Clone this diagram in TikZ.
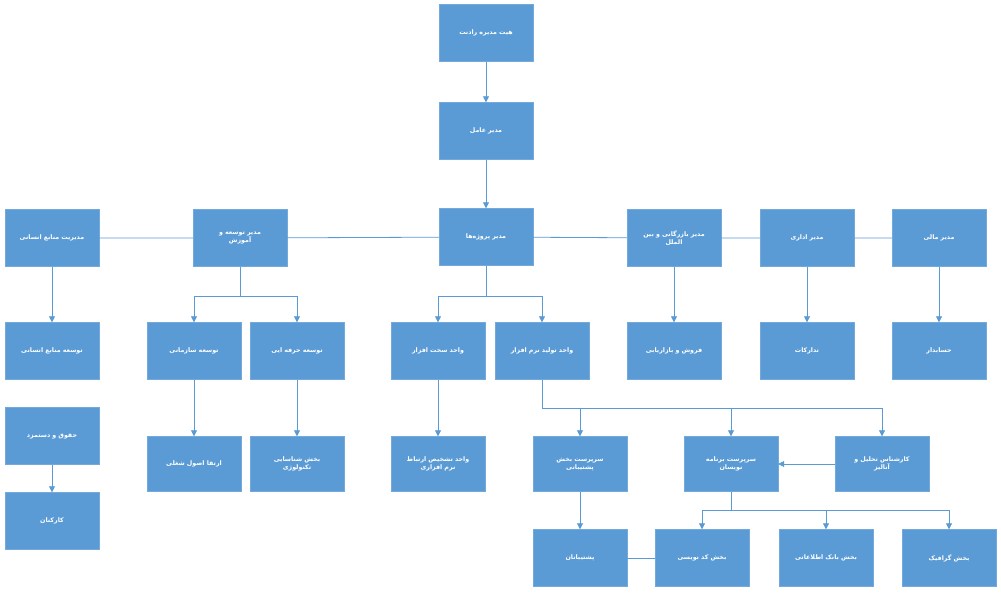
\documentclass[tikz,border=0pt]{standalone}
\usepackage{fontspec}
\TeXXeTstate=1
\newfontfamily\arabicfont[Script=Arabic]{DejaVu Sans}
\usetikzlibrary{arrows.meta}
\newcommand{\fa}[1]{{\arabicfont\bfseries\beginR #1\endR}}
\definecolor{boxblue}{HTML}{5B9BD5}
\definecolor{lineblue}{HTML}{5B9BD5}
\begin{document}
\begin{tikzpicture}[x=1pt,y=-1pt,
  box/.style={rectangle,fill=boxblue,draw=boxblue!85!white,minimum width=94pt,minimum height=57pt,inner sep=2pt,text=white,font=\fontsize{6.3}{8}\selectfont,align=center,text width=88pt},
  sbox/.style={box,minimum height=55pt},
  ln/.style={draw=lineblue,line width=0.8pt},
  arr/.style={ln,-{Triangle[length=6pt,width=6pt]}}]
\useasboundingbox[fill=white] (0,0) rectangle (1001,595);
\node[box] (board) at (486,33) {\fa{هیت مدیره رادنت}};
\node[box] (ceo) at (486,131) {\fa{مدیر عامل}};
\node[box] (pm) at (486,237) {\fa{مدیر پروژه‌ها}};
\node[box] (hr) at (52,238) {\fa{مدیریت منابع انسانی}};
\node[box] (edu) at (240,238) {\fa{مدیر توسعه و}\\\fa{آموزش}};
\node[box] (com) at (674,238) {\fa{مدیر بازرگانی و بین}\\\fa{الملل}};
\node[box] (adm) at (807,238) {\fa{مدیر اداری}};
\node[box] (fin) at (939,238) {\fa{مدیر مالی}};
\node[box] (hrd) at (52,351) {\fa{توسعه منابع انسانی}};
\node[box] (org) at (194,351) {\fa{توسعه سازمانی}};
\node[box] (prof) at (297,351) {\fa{توسعه حرفه ایی}};
\node[box] (hw) at (438,351) {\fa{واحد سخت افزار}};
\node[box] (sw) at (542,351) {\fa{واحد تولید نرم افزار}};
\node[box] (sales) at (674,351) {\fa{فروش و بازاریابی}};
\node[box] (proc) at (807,351) {\fa{تدارکات}};
\node[box] (acc) at (939,351) {\fa{حسابدار}};
\node[box] (pay) at (52,436) {\fa{حقوق و دستمزد}};
\node[box] (staff) at (52,521) {\fa{کارکنان}};
\node[sbox] (career) at (194,464) {\fa{ارتقا اصول شغلی}};
\node[sbox] (tech) at (297,464) {\fa{بخش شناسایی}\\\fa{تکنولوژی}};
\node[sbox] (diag) at (438,464) {\fa{واحد تشخیص ارتباط}\\\fa{نرم افزاری}};
\node[sbox] (sup) at (580,464) {\fa{سرپرست بخش}\\\fa{پشتیبانی}};
\node[sbox] (prog) at (731,464) {\fa{سرپرست برنامه}\\\fa{نویسان}};
\node[sbox] (anal) at (882,464) {\fa{کارشناس تحلیل و}\\\fa{آنالیز}};
\node[box] (supp) at (580,558) {\fa{پشتیبانان}};
\node[box] (code) at (702,558) {\fa{بخش کد نویسی}};
\node[box] (db) at (826,558) {\fa{بخش بانک اطلاعاتی}};
\node[box] (gfx) at (949,558) {\fa{بخش گرافیک}};
\draw[arr] (board) -- (ceo);
\draw[arr] (ceo) -- (pm);
\draw[ln] (hr) -- (edu) -- (pm) -- (com) -- (adm) -- (fin);
\draw[arr] (hr) -- (hrd);
\draw[arr] (com) -- (sales);
\draw[arr] (adm) -- (proc);
\draw[arr] (fin) -- (acc);
\coordinate (e1) at (240,296);
\draw[ln] (edu.south) -- (e1);
\draw[arr] (e1) -| (org.north);
\draw[arr] (e1) -| (prof.north);
\coordinate (p1) at (486,296);
\draw[ln] (pm.south) -- (p1);
\draw[arr] (p1) -| (hw.north);
\draw[arr] (p1) -| (sw.north);
\draw[arr] (org) -- (career);
\draw[arr] (prof) -- (tech);
\draw[arr] (hw) -- (diag);
\draw[arr] (pay) -- (staff);
\coordinate (j1) at (542,408);
\draw[ln] (sw.south) -- (j1);
\draw[arr] (j1) -| (sup.north);
\draw[arr] (j1) -| (prog.north);
\draw[arr] (j1) -| (anal.north);
\draw[arr] (anal.west) -- (prog.east);
\draw[arr] (sup) -- (supp);
\coordinate (j2) at (731,510);
\draw[ln] (prog.south) -- (j2);
\draw[arr] (j2) -| (code.north);
\draw[arr] (j2) -| (db.north);
\draw[arr] (j2) -| (gfx.north);
\draw[ln] (code.west) -- (supp.east);
\end{tikzpicture}
\end{document}
